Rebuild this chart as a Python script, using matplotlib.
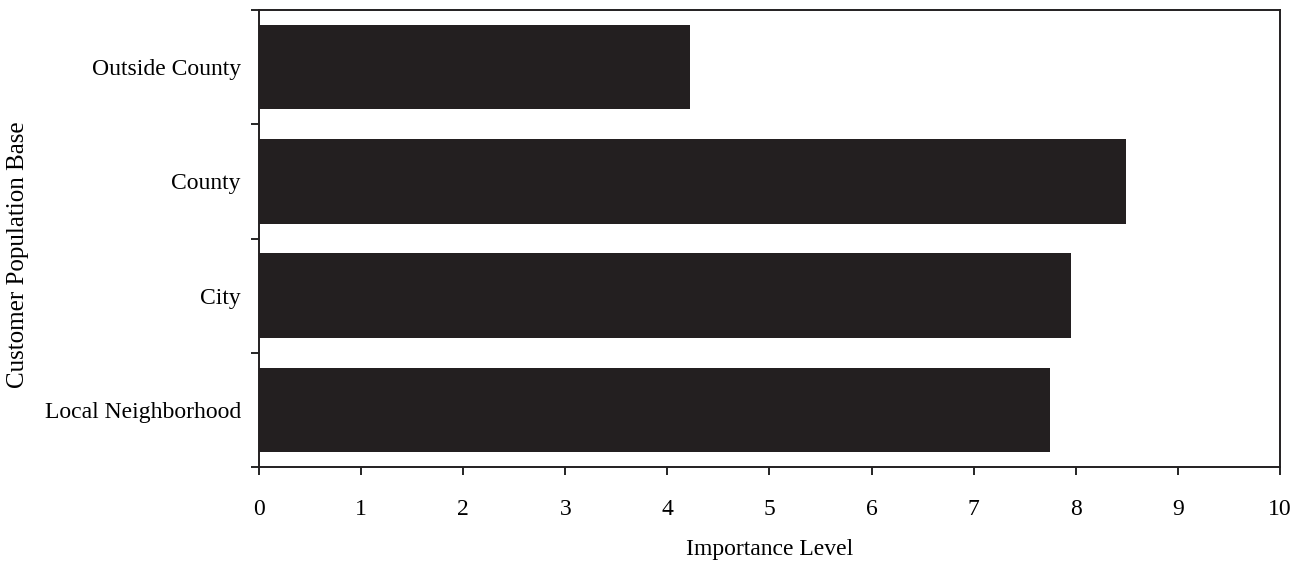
import matplotlib
matplotlib.use("Agg")
import matplotlib.pyplot as plt
import numpy as np

categories = ["Local Neighborhood", "City", "County", "Outside County"]
values = [7.75, 7.95, 8.49, 4.22]
x_ticks = list(range(0, 11))

plt.rcParams['font.family'] = ['Liberation Serif', 'DejaVu Serif']

fig = plt.figure(figsize=(13.02, 5.63), dpi=100)
ax = fig.add_axes([259/1302, 1-467/563, (1280-259)/1302, (467-10)/563])

y = np.arange(len(categories))
ax.barh(y, values, height=0.74, color="#231f20", edgecolor="none")

ax.set_xlim(0, 10)
ax.set_ylim(-0.5, len(categories) - 0.5)
ax.set_xticks(x_ticks)
ax.set_xticklabels([str(t) for t in x_ticks], fontsize=17)
ax.set_yticks(y)
ax.set_yticklabels(categories, fontsize=17)
ax.tick_params(axis='y', which='major', length=0, pad=13)
ax.set_yticks(np.arange(-0.5, len(categories) + 0.5, 1.0), minor=True)
ax.tick_params(axis='y', which='minor', length=6, width=1.2, direction='out')
ax.tick_params(axis='x', which='major', length=6, width=1.2, direction='out', pad=17)

for s in ax.spines.values():
    s.set_linewidth(1.4)
    s.set_color("#231f20")

ax.set_xlabel("Importance Level", fontsize=17, labelpad=14)
ax.set_ylabel("Customer Population Base", fontsize=18)
ax.yaxis.set_label_coords(-0.225, 0.464)

fig.savefig("out.png", dpi=100)
